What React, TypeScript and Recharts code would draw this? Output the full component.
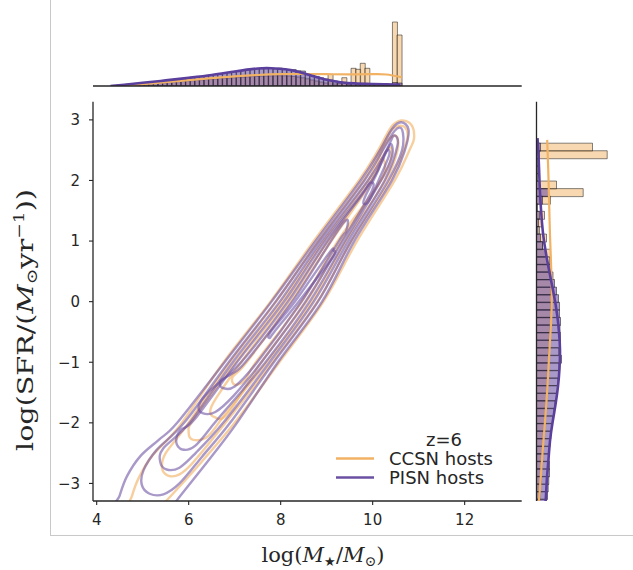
import React from 'react';
import { ComposedChart, Line, Bar, XAxis, YAxis } from 'recharts';

type Pt = [number, number];

// ---------- axes ----------
const X_TICKS = [4, 6, 8, 10, 12];
const Y_TICKS = [-3, -2, -1, 0, 1, 2, 3];
const X_DOMAIN: [number, number] = [3.92, 13.24];
const Y_DOMAIN: [number, number] = [-3.29, 3.3];
const SERIES_NAMES = ['CCSN hosts', 'PISN hosts'];
const LEGEND_TITLE = 'z=6';

// ---------- KDE contours (log M*, log SFR) ----------
const CCSN_CONTOURS: Pt[][] = [
  [[4.70,-3.45],[4.77,-3.20],[4.92,-2.90],[5.20,-2.55],[5.80,-2.05],[6.76,-1.0],[7.78,0],[8.72,1.0],[9.70,2.0],[10.12,2.50],[10.40,2.88],[10.62,2.99],[10.84,2.92],[10.90,2.70],[10.80,2.50],[10.48,2.0],[9.66,1.0],[8.93,0],[7.97,-1.0],[7.00,-2.0],[6.10,-2.80],[5.50,-3.30],[5.35,-3.45]],
  [[5.55,-2.87],[5.42,-2.74],[5.50,-2.50],[5.95,-2.05],[6.90,-1.0],[7.90,0],[8.82,1.0],[9.80,2.0],[10.20,2.55],[10.45,2.86],[10.70,2.88],[10.74,2.65],[10.38,2.0],[9.54,1.0],[8.80,0],[7.82,-1.0],[6.80,-2.0],[6.10,-2.65],[5.80,-2.85]],
  [[6.10,-2.28],[6.00,-2.15],[6.12,-1.92],[7.02,-1.0],[8.02,0],[8.93,1.0],[9.90,2.0],[10.26,2.58],[10.50,2.74],[10.54,2.50],[10.28,2.0],[9.42,1.0],[8.68,0],[7.70,-1.0],[6.85,-1.80],[6.42,-2.22]],
  [[6.55,-1.90],[6.48,-1.76],[6.72,-1.45],[7.14,-1.0],[8.12,0],[9.03,1.0],[9.97,2.0],[10.24,2.42],[10.40,2.54],[10.38,2.30],[10.18,2.0],[9.32,1.0],[8.56,0],[7.58,-1.0],[6.85,-1.85]],
  [[7.00,-1.37],[6.96,-1.24],[7.26,-1.0],[8.22,0],[9.10,1.0],[9.95,1.95],[10.20,2.36],[10.26,2.16],[10.05,1.85],[9.24,1.0],[8.46,0],[7.46,-1.0],[7.22,-1.30]],
];

const PISN_CONTOURS: Pt[][] = [
  [[4.42,-3.45],[4.50,-3.20],[4.66,-2.88],[4.95,-2.55],[5.35,-2.28],[5.75,-2.0],[6.78,-1.0],[7.80,0],[8.76,1.0],[9.74,2.0],[10.16,2.5],[10.42,2.85],[10.62,2.96],[10.78,2.84],[10.70,2.50],[10.42,2.0],[9.60,1.0],[8.90,0],[7.94,-1.0],[7.05,-2.0],[6.45,-2.60],[5.72,-3.30],[5.60,-3.45]],
  [[5.15,-3.17],[4.98,-3.02],[5.02,-2.78],[5.30,-2.45],[5.90,-2.0],[6.87,-1.0],[7.89,0],[8.83,1.0],[9.82,2.0],[10.22,2.5],[10.48,2.82],[10.64,2.84],[10.64,2.50],[10.34,2.0],[9.53,1.0],[8.81,0],[7.85,-1.0],[6.90,-2.0],[6.30,-2.55],[5.80,-3.0],[5.45,-3.18]],
  [[5.52,-2.77],[5.38,-2.64],[5.45,-2.42],[6.02,-2.0],[6.96,-1.0],[7.98,0],[8.89,1.0],[9.90,2.0],[10.30,2.5],[10.46,2.74],[10.54,2.58],[10.26,2.0],[9.47,1.0],[8.72,0],[7.76,-1.0],[6.75,-2.0],[6.15,-2.50],[5.80,-2.74]],
  [[5.86,-2.44],[5.73,-2.32],[5.82,-2.12],[6.12,-1.95],[7.05,-1.0],[8.07,0],[8.96,1.0],[9.98,2.0],[10.28,2.45],[10.40,2.60],[10.42,2.40],[10.18,2.0],[9.40,1.0],[8.63,0],[7.67,-1.0],[6.62,-1.95],[6.14,-2.38]],
  [[6.30,-1.84],[6.22,-1.72],[6.42,-1.50],[7.14,-1.0],[8.16,0],[9.02,1.0],[9.76,1.75],[9.94,1.96],[9.98,1.82],[9.34,1.0],[8.54,0],[7.58,-1.0],[6.98,-1.55],[6.58,-1.82]],
  [[6.72,-1.42],[6.70,-1.30],[6.92,-1.20],[7.23,-1.0],[8.25,0],[9.09,1.0],[9.36,1.30],[9.46,1.34],[9.42,1.16],[9.27,1.0],[8.45,0],[7.49,-1.0],[7.00,-1.40]],
  [[7.76,-0.60],[7.78,-0.50],[8.31,0],[9.05,0.80],[9.15,0.84],[9.12,0.72],[8.39,0],[7.86,-0.50]],
  [[9.80,1.62],[9.84,1.74],[10.08,2.10],[10.30,2.48],[10.36,2.42],[10.14,2.02],[9.92,1.66]],
];

// ---------- top marginal: stellar mass histogram ----------
const MASS_BIN_CENTERS = [4.38,4.48,4.58,4.68,4.78,4.88,4.98,5.08,5.18,5.28,5.38,5.48,5.58,5.68,5.78,5.88,5.98,6.08,6.18,6.28,6.38,6.48,6.58,6.68,6.78,6.88,6.98,7.08,7.18,7.28,7.38,7.48,7.58,7.68,7.78,7.88,7.98,8.08,8.18,8.28,8.38,8.48,8.58,8.68,8.78,8.88,8.98,9.08,9.18,9.28,9.38,9.48,9.58,9.68,9.78,9.88,9.98,10.08,10.18,10.28,10.38,10.48,10.58];
const CCSN_MASS_HIST = [0,0,0.3,0.6,0.9,1.2,1.5,1.8,2.2,2.5,2.9,3.2,3.6,3.9,4.3,4.6,5.0,5.3,5.7,6.0,6.4,6.7,7.0,7.4,7.7,8.0,8.3,8.6,8.9,9.1,9.4,9.6,9.8,10.0,10.1,10.2,10.3,10.2,10.0,9.6,9.0,8.2,7.2,6.0,5.0,4.0,3.0,11.7,2.0,2.7,8.3,1.5,17.7,16.7,22.7,17.7,1.2,1.0,0.8,0.8,1.0,64,51];
const PISN_MASS_HIST = [0.6,1.0,1.4,1.8,2.2,2.6,3.0,3.5,3.9,4.4,4.8,5.3,5.8,6.2,6.8,7.3,7.8,8.4,8.9,9.5,10.1,10.7,11.4,12.0,12.8,13.4,14.1,14.9,15.5,16.2,16.8,17.3,17.6,17.8,17.6,17.3,17.9,17.0,16.6,16.4,15.2,15.0,12.5,11.0,9.6,8.2,7.0,6.0,5.0,4.3,3.6,3.2,2.8,2.5,2.3,2.1,2.0,1.9,1.8,1.7,1.6,3.5,3.0];
const CCSN_MASS_KDE_X = [4.5,5.0,5.5,6.0,6.5,7.0,7.5,8.0,8.5,9.0,9.5,10.0,10.3,10.63];
const CCSN_MASS_KDE_Y = [0,1.8,3.8,5.8,7.8,9.6,11.0,11.8,12.0,11.8,11.6,11.8,11.5,8.7];
const PISN_MASS_KDE_X = [4.3,4.6,5.0,5.5,6.0,6.5,7.0,7.5,7.8,8.1,8.4,8.7,9.0,9.3,9.6,10.0,10.3,10.6];
const PISN_MASS_KDE_Y = [0,1.3,3.2,5.6,8.2,11.0,14.5,17.5,17.8,16.8,14.0,10.0,6.2,3.8,2.6,2.0,1.6,1.1];

// ---------- right marginal: SFR histogram ----------
const SFR_BIN_CENTERS = [2.553,2.428,2.303,2.178,2.053,1.928,1.803,1.678,1.553,1.428,1.303,1.178,1.053,0.928,0.803,0.678,0.553,0.428,0.303,0.178,0.053,-0.072,-0.197,-0.322,-0.447,-0.572,-0.697,-0.822,-0.947,-1.072,-1.197,-1.322,-1.447,-1.572,-1.697,-1.822,-1.947,-2.072,-2.197,-2.322,-2.447,-2.572,-2.697,-2.822,-2.947,-3.072,-3.197,-3.322];
const CCSN_SFR_HIST = [56,70.7,0,0,0,20,46.7,14,0,8,5.7,3,10,6,14,13,13.5,14,14.5,14.5,15,14.5,15,14,13.5,13.5,13,12.5,12,12,11.5,11,10.5,10,9.5,9,8.5,8,7.5,7,6.5,6,5.5,5,4.5,4,3.5,3];
const PISN_SFR_HIST = [4,3,1,1,1,3,12,6,1,3,2,1.5,4,6,9,11,14,16.5,18,20,22,23,23,24,23.5,24,24,22,25,22.5,23,21.5,21,20,18.5,17.5,16,15,14.3,13.5,13,12.3,13,13,12.3,11.7,11,10];
const CCSN_SFR_KDE_Y = [2.67,2.2,1.6,1.09,0.5,0.0,-0.36,-0.91,-1.46,-2.02,-2.57,-3.12,-3.3];
const CCSN_SFR_KDE_V = [10.7,11.7,12.7,13.5,14.8,15.2,14.5,12.6,10.7,8.3,5.7,3.3,2.3];
const PISN_SFR_KDE_Y = [2.7,2.3,1.8,1.3,1.0,0.7,0.4,0.1,-0.2,-0.5,-0.8,-1.1,-1.4,-1.7,-2.0,-2.3,-2.6,-2.9,-3.2,-3.3];
const PISN_SFR_KDE_V = [1,2.3,3.5,5.5,7.5,10.5,14,17.5,20.5,22.5,23.5,23,21.5,19,16,13.5,12,10.5,9.5,9];

// ---------- style ----------
const ORANGE = '#f2b264';
const PURPLE = '#6a50a2';
const KDE_PURPLE = '#5b3f9c';
const AXIS = '#262626';
const TEXT = '#262626';
const TICK_FONT = { fill: TEXT, fontSize: 15, fontFamily: 'DejaVu Sans' };

// closed Catmull-Rom curve (passes through all points)
const closedSpline: any = (context: any) => {
  let pts: number[][] = [];
  return {
    areaStart() {},
    areaEnd() {},
    lineStart() { pts = []; },
    point(x: number, y: number) { pts.push([+x, +y]); },
    lineEnd() {
      const n = pts.length;
      if (n < 3) return;
      context.moveTo(pts[0][0], pts[0][1]);
      for (let i = 0; i < n; i++) {
        const p0 = pts[(i - 1 + n) % n];
        const p1 = pts[i];
        const p2 = pts[(i + 1) % n];
        const p3 = pts[(i + 2) % n];
        context.bezierCurveTo(
          p1[0] + (p2[0] - p0[0]) / 6, p1[1] + (p2[1] - p0[1]) / 6,
          p2[0] - (p3[0] - p1[0]) / 6, p2[1] - (p3[1] - p1[1]) / 6,
          p2[0], p2[1]
        );
      }
      context.closePath();
    },
  };
};

const toXY = (c: Pt[]) => c.map(([x, y]) => ({ x, y }));
const fmtY = (v: number) => (v < 0 ? '\u2212' + Math.abs(v) : String(v));

const massHist = MASS_BIN_CENTERS.map((x, i) => ({ x, ccsn: CCSN_MASS_HIST[i], pisn: PISN_MASS_HIST[i] }));
const ccsnMassKde = CCSN_MASS_KDE_X.map((x, i) => ({ x, v: CCSN_MASS_KDE_Y[i] }));
const pisnMassKde = PISN_MASS_KDE_X.map((x, i) => ({ x, v: PISN_MASS_KDE_Y[i] }));
const sfrHist = SFR_BIN_CENTERS.map((y, i) => ({ y, ccsn: CCSN_SFR_HIST[i], pisn: PISN_SFR_HIST[i] }));
const ccsnSfrKde = CCSN_SFR_KDE_Y.map((y, i) => ({ y, v: CCSN_SFR_KDE_V[i] }));
const pisnSfrKde = PISN_SFR_KDE_Y.map((y, i) => ({ y, v: PISN_SFR_KDE_V[i] }));

const barStyle = { stroke: '#1a1a1a', strokeWidth: 0.75, strokeOpacity: 0.7 };

function MainChart() {
  return (
    <ComposedChart width={633} height={570} margin={{ top: 101.7, right: 111.3, bottom: 39, left: 53 }}>
      <XAxis type="number" dataKey="x" domain={X_DOMAIN} ticks={X_TICKS} allowDataOverflow interval={0}
        height={30} tickSize={4} tickMargin={9}
        axisLine={{ stroke: AXIS, strokeWidth: 1.3 }} tickLine={{ stroke: AXIS, strokeWidth: 1.1 }} tick={TICK_FONT} />
      <YAxis type="number" domain={Y_DOMAIN} ticks={Y_TICKS} allowDataOverflow interval={0}
        width={40} tickSize={4} tickMargin={9} tickFormatter={fmtY}
        axisLine={{ stroke: AXIS, strokeWidth: 1.3 }} tickLine={{ stroke: AXIS, strokeWidth: 1.1 }} tick={TICK_FONT} />
      {CCSN_CONTOURS.map((c, i) => (
        <Line key={'c' + i} data={toXY(c)} dataKey="y" type={closedSpline} stroke={ORANGE}
          strokeOpacity={0.62} strokeWidth={2.4} dot={false} activeDot={false} isAnimationActive={false} />
      ))}
      {PISN_CONTOURS.map((c, i) => (
        <Line key={'p' + i} data={toXY(c)} dataKey="y" type={closedSpline} stroke={PURPLE}
          strokeOpacity={0.58} strokeWidth={2.4} dot={false} activeDot={false} isAnimationActive={false} />
      ))}
    </ComposedChart>
  );
}

function TopChart() {
  return (
    <ComposedChart width={633} height={100} data={massHist} barCategoryGap={0} barGap={0}
      margin={{ top: 5, right: 111.3, bottom: 4, left: 93 }}>
      <XAxis xAxisId="ax" type="number" dataKey="x" domain={X_DOMAIN} ticks={X_TICKS} allowDataOverflow interval={0}
        height={10} tickSize={4} tick={false}
        axisLine={{ stroke: AXIS, strokeWidth: 1.3 }} tickLine={{ stroke: AXIS, strokeWidth: 1.1 }} />
      <XAxis xAxisId="bo" type="number" dataKey="x" domain={X_DOMAIN} allowDataOverflow hide />
      <XAxis xAxisId="bp" type="number" dataKey="x" domain={X_DOMAIN} allowDataOverflow hide />
      <YAxis type="number" domain={[0, 81]} allowDataOverflow hide />
      <Bar xAxisId="bo" dataKey="ccsn" fill={ORANGE} fillOpacity={0.5} {...barStyle} isAnimationActive={false} />
      <Bar xAxisId="bp" dataKey="pisn" fill={PURPLE} fillOpacity={0.58} {...barStyle} isAnimationActive={false} />
      <Line xAxisId="ax" data={ccsnMassKde} dataKey="v" type="natural" stroke={ORANGE} strokeWidth={2.2}
        dot={false} activeDot={false} isAnimationActive={false} />
      <Line xAxisId="ax" data={pisnMassKde} dataKey="v" type="natural" stroke={KDE_PURPLE} strokeWidth={2.6}
        dot={false} activeDot={false} isAnimationActive={false} />
    </ComposedChart>
  );
}

function RightChart() {
  return (
    <ComposedChart layout="vertical" width={133} height={570} data={sfrHist} barCategoryGap={0} barGap={0}
      margin={{ top: 101.7, right: 6.5, bottom: 69, left: 26.5 }}>
      <XAxis type="number" domain={[0, 90]} allowDataOverflow hide />
      <YAxis yAxisId="ax" type="number" dataKey="y" domain={Y_DOMAIN} ticks={Y_TICKS} allowDataOverflow interval={0}
        reversed width={10} tickSize={4} tick={false}
        axisLine={{ stroke: AXIS, strokeWidth: 1.3 }} tickLine={{ stroke: AXIS, strokeWidth: 1.1 }} />
      <YAxis yAxisId="bo" type="number" dataKey="y" domain={Y_DOMAIN} allowDataOverflow reversed hide />
      <YAxis yAxisId="bp" type="number" dataKey="y" domain={Y_DOMAIN} allowDataOverflow reversed hide />
      <Bar yAxisId="bo" dataKey="ccsn" fill={ORANGE} fillOpacity={0.5} {...barStyle} isAnimationActive={false} />
      <Bar yAxisId="bp" dataKey="pisn" fill={PURPLE} fillOpacity={0.58} {...barStyle} isAnimationActive={false} />
      <Line yAxisId="ax" data={ccsnSfrKde} dataKey="v" type="natural" stroke={ORANGE} strokeWidth={2.2}
        dot={false} activeDot={false} isAnimationActive={false} />
      <Line yAxisId="ax" data={pisnSfrKde} dataKey="v" type="natural" stroke={KDE_PURPLE} strokeWidth={2.6}
        dot={false} activeDot={false} isAnimationActive={false} />
    </ComposedChart>
  );
}

function Overlay() {
  return (
    <svg width={633} height={570} style={{ position: 'absolute', left: 0, top: 0, pointerEvents: 'none' }}>
      <line x1={50.5} y1={0} x2={50.5} y2={535} stroke="#c9c9c9" strokeWidth={1} />
      <line x1={50} y1={535.5} x2={633} y2={535.5} stroke="#c9c9c9" strokeWidth={1} />
      {/* legend */}
      <text x={444} y={445.5} textAnchor="middle" fontFamily="DejaVu Sans" fontSize={18} fill={TEXT}>{LEGEND_TITLE}</text>
      <line x1={336} y1={458.5} x2={374} y2={458.5} stroke={ORANGE} strokeWidth={2.6} />
      <text x={389} y={465} fontFamily="DejaVu Sans" fontSize={18} fill={TEXT}>{SERIES_NAMES[0]}</text>
      <line x1={336} y1={477.5} x2={374} y2={477.5} stroke={PURPLE} strokeWidth={2.6} />
      <text x={389} y={484} fontFamily="DejaVu Sans" fontSize={18} fill={TEXT}>{SERIES_NAMES[1]}</text>
      {/* axis labels */}
      <text x={323} y={562} textAnchor="middle" fontFamily="DejaVu Serif" fontSize={21} fill={TEXT}>
        log(<tspan fontStyle="italic">M</tspan><tspan fontSize={13} dy={4}>★</tspan><tspan dy={-4}>/</tspan><tspan fontStyle="italic">M</tspan><tspan fontSize={14} dy={4}>⊙</tspan><tspan dy={-4}>)</tspan>
      </text>
      <text x={33} y={320} transform="rotate(-90, 33, 320)" textAnchor="middle" fontFamily="DejaVu Serif" fontSize={23}
        textLength={262} lengthAdjust="spacingAndGlyphs" fill={TEXT}>
        log(SFR/(<tspan fontStyle="italic">M</tspan><tspan fontSize={15} dy={4}>⊙</tspan><tspan dy={-4}>yr</tspan><tspan fontSize={15} dy={-9}>−1</tspan><tspan dy={9}>))</tspan>
      </text>
    </svg>
  );
}

export default function App() {
  return (
    <div style={{ position: 'absolute', left: 0, top: 0, width: 633, height: 570, background: '#fff' }}>
      <div style={{ position: 'absolute', left: 0, top: 0 }}><MainChart /></div>
      <div style={{ position: 'absolute', left: 0, top: 0 }}><TopChart /></div>
      <div style={{ position: 'absolute', left: 500, top: 0 }}><RightChart /></div>
      <Overlay />
    </div>
  );
}
